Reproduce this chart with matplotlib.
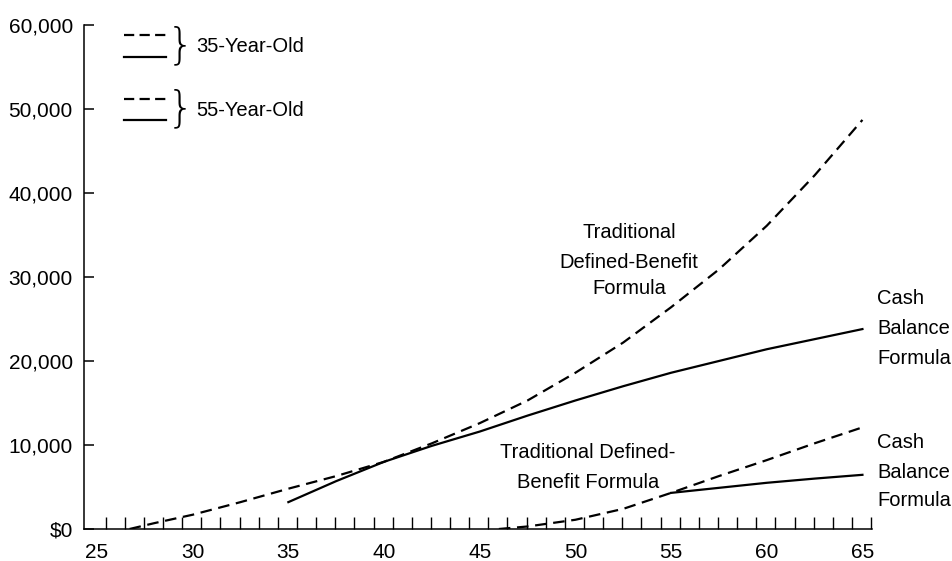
import matplotlib
matplotlib.use("Agg")
import matplotlib.pyplot as plt
from matplotlib.lines import Line2D
from matplotlib.ticker import FixedLocator

plt.rcParams['font.family'] = ['Liberation Sans', 'DejaVu Sans']

# ---- data (age, annual benefit value in $) ----
age_db35 = [26.7, 28, 30, 32.5, 35, 37.5, 40, 42.5, 45, 47.5, 50, 52.5, 55, 57.5, 60, 62.5, 65]
db35 = [0, 700, 1700, 3200, 4800, 6300, 8000, 10200, 12600, 15300, 18600, 22200, 26400, 30900, 36100, 42100, 48700]

age_cb35 = [35, 37.5, 40, 42.5, 45, 47.5, 50, 52.5, 55, 57.5, 60, 62.5, 65]
cb35 = [3200, 5700, 8000, 9900, 11600, 13500, 15300, 17000, 18600, 20000, 21400, 22600, 23800]

age_db55 = [46, 47.5, 50, 52.5, 55, 57.5, 60, 62.5, 65]
db55 = [0, 300, 1100, 2400, 4300, 6300, 8200, 10200, 12100]

age_cb55 = [55, 57.5, 60, 62.5, 65]
cb55 = [4300, 4900, 5500, 6000, 6450]

x_labels = [25, 30, 35, 40, 45, 50, 55, 60, 65]
y_ticks = [0, 10000, 20000, 30000, 40000, 50000, 60000]
y_labels = ['$0', '10,000', '20,000', '30,000', '40,000', '50,000', '60,000']

W, H = 952, 561
fig = plt.figure(figsize=(W / 100, H / 100), dpi=100)

def fx(px):
    return px / W

def fy(py):
    return 1 - py / H

ax_left, ax_right, ax_top, ax_bot = 84, 872, 25, 529
ax = fig.add_axes([fx(ax_left), fy(ax_bot), (ax_right - ax_left) / W, (ax_bot - ax_top) / H])

lw = 1.6
dash = (5.2, 3.0)
ax.plot(age_db35, db35, color='black', lw=lw, dashes=dash)
ax.plot(age_cb35, cb35, color='black', lw=lw)
ax.plot(age_db55, db55, color='black', lw=lw, dashes=dash)
ax.plot(age_cb55, cb55, color='black', lw=lw)

ax.set_xlim(24.32, 65.5)
ax.set_ylim(0, 60000)

for s in ['top', 'right']:
    ax.spines[s].set_visible(False)
for s in ['left', 'bottom']:
    ax.spines[s].set_linewidth(1.1)

# x: labels without marks, yearly inward tick marks slightly offset (as in the original)
ax.xaxis.set_major_locator(FixedLocator(x_labels))
ax.xaxis.set_minor_locator(FixedLocator([k + 0.45 for k in range(25, 66)]))
ax.tick_params(axis='x', which='major', length=0, pad=10, labelsize=15)
ax.tick_params(axis='x', which='minor', direction='in', length=8.5, width=1.0)

ax.set_yticks(y_ticks)
ax.set_yticklabels(y_labels)
ax.tick_params(axis='y', direction='in', length=7.5, width=1.1, pad=8, labelsize=15)

fs = 14.5
# upper annotation
for txt, py in [('Traditional', 232), ('Defined-Benefit', 262), ('Formula', 289)]:
    fig.text(fx(629), fy(py), txt, ha='center', va='center', fontsize=fs)
# lower annotation
for txt, py in [('Traditional Defined-', 452), ('Benefit Formula', 482)]:
    fig.text(fx(588), fy(py), txt, ha='center', va='center', fontsize=fs)
# right labels
for txt, py in [('Cash', 299), ('Balance', 329), ('Formula', 358)]:
    fig.text(fx(877), fy(py), txt, ha='left', va='center', fontsize=fs)
for txt, py in [('Cash', 442), ('Balance', 472), ('Formula', 501)]:
    fig.text(fx(877), fy(py), txt, ha='left', va='center', fontsize=fs)

# legend
for py, dashed in [(35, True), (57, False), (99, True), (120, False)]:
    ln = Line2D([fx(124), fx(166)], [fy(py), fy(py)], transform=fig.transFigure,
                color='black', lw=1.6)
    if dashed:
        ln.set_dashes((4.6, 2.4))
    fig.add_artist(ln)
for txt, py in [('35-Year-Old', 47), ('55-Year-Old', 110)]:
    fig.text(fx(167), fy(py - 1), '}', ha='left', va='center', fontsize=31,
             fontweight='light', family=['DejaVu Sans'])
    fig.text(fx(196), fy(py), txt, ha='left', va='center', fontsize=fs)

fig.savefig('out.png', dpi=100)
